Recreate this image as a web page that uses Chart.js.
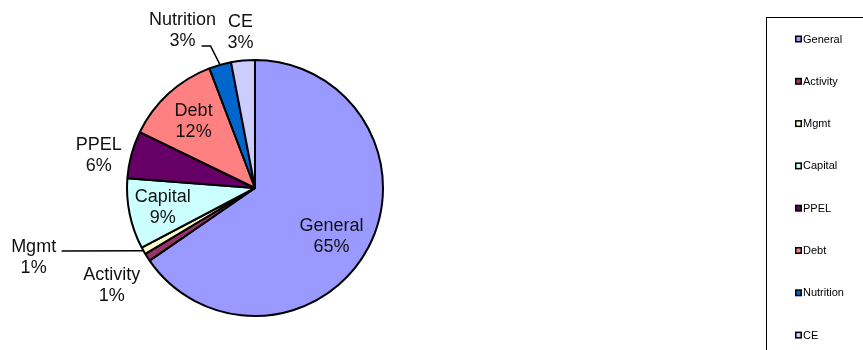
<!DOCTYPE html>
<html>
<head>
<meta charset="utf-8">
<script src="https://cdn.jsdelivr.net/npm/chart.js@4"></script>
<style>
  html, body { margin: 0; padding: 0; background: #fff; }
  canvas { display: block; }
</style>
</head>
<body>
<canvas id="budget-chart" width="863" height="350"></canvas>
<script>
// Fund shares (percent of total)
const funds = ['General', 'Activity', 'Mgmt', 'Capital', 'PPEL', 'Debt', 'Nutrition', 'CE'];
const shares = [65.4, 1.0, 0.9, 8.9, 6.0, 12.0, 2.8, 3.0];
const fundColors = ['#9999FF', '#993366', '#FFFFCC', '#CCFFFF', '#660066', '#FF8080', '#0066CC', '#CCCCFF'];

// Where each slice label sits: radius as a fraction of the pie radius, then a small nudge
const labelPlacement = [
    { r: 0.71, dx: -4, dy: 6 },
    { r: 1.35, dx: 2, dy: 4 },
    { r: 1.5, dx: -54, dy: -25 },
    { r: 0.72, dx: -2, dy: 1 },
    { r: 1.24, dx: -3, dy: 9 },
    { r: 0.71, dx: 0, dy: 1 },
    { r: 1.3, dx: -27, dy: 3 },
    { r: 1.21, dx: 0, dy: -1 }
];
// Leader lines from the label (relative to label centre) to the slice edge
const leaders = {
    2: [[28, -6]],
    6: [[19, 15], [28, 15]]
};

const FONT = '"Liberation Sans", Arial, sans-serif';

const sliceLabels = {
    id: 'sliceLabels',
    afterDatasetsDraw(chart) {
        const ctx = chart.ctx;
        const meta = chart.getDatasetMeta(0);
        const total = shares.reduce((a, b) => a + b, 0);
        ctx.save();
        ctx.font = '18px ' + FONT;
        ctx.textAlign = 'center';
        ctx.textBaseline = 'middle';
        meta.data.forEach((arc, i) => {
            const p = arc.getProps(['x', 'y', 'startAngle', 'endAngle', 'outerRadius'], true);
            const mid = (p.startAngle + p.endAngle) / 2;
            const place = labelPlacement[i];
            const cx = p.x + Math.cos(mid) * p.outerRadius * place.r + place.dx;
            const cy = p.y + Math.sin(mid) * p.outerRadius * place.r + place.dy;
            const pct = Math.round(shares[i] / total * 100) + '%';

            if (leaders[i]) {
                ctx.strokeStyle = '#000';
                ctx.lineWidth = 1.5;
                ctx.beginPath();
                leaders[i].forEach((pt, k) => {
                    if (k === 0) ctx.moveTo(cx + pt[0], cy + pt[1]);
                    else ctx.lineTo(cx + pt[0], cy + pt[1]);
                });
                ctx.lineTo(p.x + Math.cos(mid) * p.outerRadius, p.y + Math.sin(mid) * p.outerRadius);
                ctx.stroke();
            }

            ctx.fillStyle = '#111';
            ctx.fillText(funds[i], cx, cy - 10.5);
            ctx.fillText(pct, cx, cy + 10.5);
        });
        ctx.restore();
    }
};

// Boxed legend down the right edge
const boxLegend = {
    id: 'boxLegend',
    afterDraw(chart) {
        const ctx = chart.ctx;
        ctx.save();
        ctx.strokeStyle = '#000';
        ctx.lineWidth = 1;
        ctx.strokeRect(766.5, 17.5, 200, 400);
        ctx.font = '11px ' + FONT;
        ctx.textAlign = 'left';
        ctx.textBaseline = 'middle';
        funds.forEach((name, i) => {
            const y = 39 + i * 42.3;
            ctx.fillStyle = '#000';
            ctx.fillRect(795, y - 3.5, 7, 7);
            ctx.fillStyle = fundColors[i];
            ctx.fillRect(796.5, y - 2, 4, 4);
            ctx.fillStyle = '#000';
            ctx.fillText(name, 803, y + 0.5);
        });
        ctx.restore();
    }
};

new Chart(document.getElementById('budget-chart'), {
    type: 'pie',
    data: {
        labels: funds,
        datasets: [{
            data: shares,
            backgroundColor: fundColors,
            borderColor: '#000',
            borderWidth: 2,
            hoverOffset: 0
        }]
    },
    options: {
        responsive: false,
        animation: false,
        radius: 128,
        layout: {
            padding: { left: 0, right: 353, top: 26, bottom: 0 }
        },
        plugins: {
            legend: { display: false },
            tooltip: { enabled: false }
        }
    },
    plugins: [sliceLabels, boxLegend]
});
</script>
</body>
</html>
